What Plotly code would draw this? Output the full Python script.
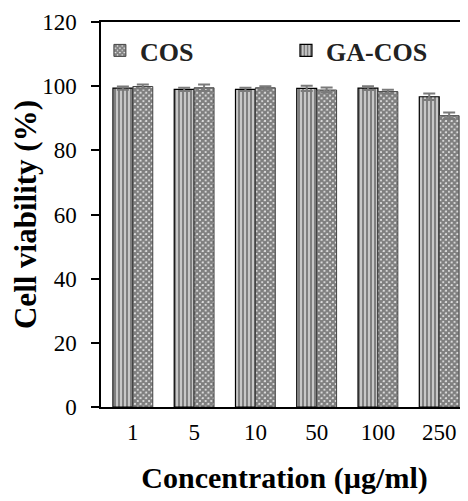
import plotly.graph_objects as go

categories = ["1", "5", "10", "50", "100", "250"]
ga_cos = [99.4, 99.0, 99.0, 99.3, 99.4, 96.7]
ga_cos_err = [0.5, 0.5, 0.5, 0.8, 0.6, 1.0]
cos = [99.9, 99.5, 99.5, 98.8, 98.3, 90.8]
cos_err = [0.6, 1.0, 0.5, 0.8, 0.6, 1.0]
y_ticks = [0, 20, 40, 60, 80, 100, 120]

FONT = "Times New Roman, Liberation Serif, Tinos, serif"

fig = go.Figure()
fig.add_trace(go.Bar(
    x=categories, y=ga_cos, name="GA-COS", legend="legend2", showlegend=True,
    marker=dict(color="white", line=dict(color="black", width=1.2),
                pattern=dict(shape="|", size=4, solidity=0.72, fgcolor="black", bgcolor="white", fillmode="overlay")),
    error_y=dict(type="data", array=ga_cos_err, color="#7a7a7a", thickness=2, width=6),
))
fig.add_trace(go.Bar(
    x=categories, y=cos, name="COS", legend="legend", showlegend=True,
    marker=dict(color="white", line=dict(color="#444444", width=1),
                pattern=dict(shape="x", size=4, solidity=0.85, fgcolor="black", bgcolor="white", fillmode="overlay")),
    error_y=dict(type="data", array=cos_err, color="#7a7a7a", thickness=2, width=6),
))

legend_font = dict(family=FONT, size=26, color="#222222", weight="bold")

# page body adds an 8px offset, so the figure is sized 8px smaller
fig.update_layout(
    width=460, height=493,
    margin=dict(l=93, r=0, t=14, b=94),
    showlegend=True,
    plot_bgcolor="white", paper_bgcolor="white",
    barmode="group", bargap=0.35, bargroupgap=0,
    font=dict(family=FONT, size=23, color="black"),
    legend=dict(x=-0.003, y=0.987, xanchor="left", yanchor="top",
                font=legend_font, bgcolor="rgba(0,0,0,0)"),
    legend2=dict(x=0.504, y=0.987, xanchor="left", yanchor="top",
                 font=legend_font, bgcolor="rgba(0,0,0,0)"),
    xaxis=dict(range=[-0.52, 5.47], showline=True, mirror=True, linecolor="black", linewidth=1.5,
               ticks="", showgrid=False, ticklabelstandoff=4, automargin=False,
               title=dict(text="<b>Concentration (µg/ml)</b>", font=dict(size=30), standoff=23)),
    yaxis=dict(range=[0, 120], tickvals=y_ticks, showline=True, linecolor="black", linewidth=1.5,
               ticks="outside", ticklen=8, tickwidth=1.5, tickcolor="black", automargin=False,
               showgrid=False, zeroline=False, ticklabelstandoff=10,
               title=dict(text="<b>Cell viability (%)</b>", font=dict(size=31), standoff=2)),
)

fig.write_html("out.html")
